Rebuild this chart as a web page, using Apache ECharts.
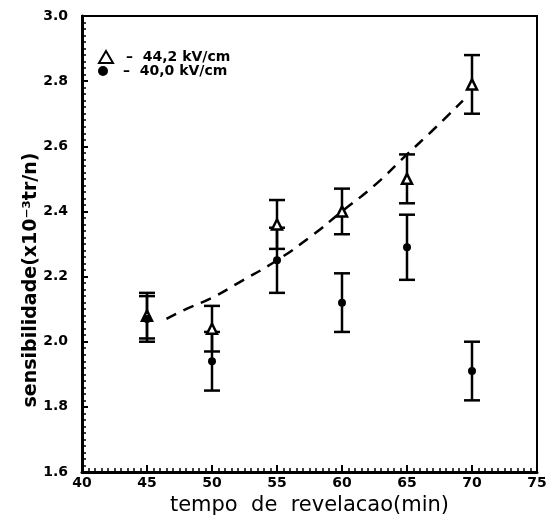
<!DOCTYPE html>
<html>
<head>
<meta charset="utf-8">
<script src="https://cdn.jsdelivr.net/npm/echarts@6/dist/echarts.min.js"></script>
<style>html,body{margin:0;padding:0;background:#fff}#c{width:556px;height:522px}</style>
</head>
<body>
<div id="c"></div>
<script>
// Data
const xValues = [45, 50, 55, 60, 65, 70];
const triValues = [2.08, 2.04, 2.36, 2.40, 2.50, 2.79];   // 44,2 kV/cm
const triErrors = [0.07, 0.07, 0.075, 0.07, 0.075, 0.09];
const dotValues = [2.07, 1.94, 2.25, 2.12, 2.29, 1.91];   // 40,0 kV/cm
const dotErrors = [0.07, 0.09, 0.10, 0.09, 0.10, 0.09];
const fitX = [46.5, 48, 50, 52, 55, 57.5, 60, 62.5, 65, 67, 69.3];
const fitY = [2.07, 2.10, 2.135, 2.18, 2.25, 2.32, 2.40, 2.48, 2.575, 2.65, 2.74];
const xTicks = [40, 45, 50, 55, 60, 65, 70, 75];
const yTicks = [1.6, 1.8, 2.0, 2.2, 2.4, 2.6, 2.8, 3.0];
const triName = '44,2 kV/cm';
const dotName = '40,0 kV/cm';

const labelFont = '"DejaVu Sans", sans-serif';
const errData = [];
xValues.forEach((x, i) => {
  errData.push([x, triValues[i] - triErrors[i], triValues[i] + triErrors[i]]);
  errData.push([x, dotValues[i] - dotErrors[i], dotValues[i] + dotErrors[i]]);
});

const chart = echarts.init(document.getElementById('c'), null, {renderer: 'canvas'});
chart.setOption({
  animation: false,
  backgroundColor: '#fff',
  grid: {left: 82, right: 19, top: 16, bottom: 50, show: true, borderColor: '#000', borderWidth: 2, backgroundColor: 'transparent'},
  legend: [
    {data: [triName], left: 98, top: 50, itemWidth: 14, itemHeight: 12, padding: 0, itemGap: 0,
     formatter: n => '–  ' + n,
     textStyle: {fontFamily: labelFont, fontWeight: 'bold', fontSize: 14, color: '#000', padding: [0, 0, 0, 8]}},
    {data: [dotName], left: 98, top: 64, itemWidth: 14, itemHeight: 10, padding: 0, itemGap: 0,
     formatter: n => '–  ' + n,
     textStyle: {fontFamily: labelFont, fontWeight: 'bold', fontSize: 14, color: '#000', padding: [0, 0, 0, 8]}}
  ],
  xAxis: {
    type: 'value', min: xTicks[0], max: xTicks[xTicks.length - 1], interval: 5,
    name: 'tempo  de  revelacao(min)', nameLocation: 'middle', nameGap: 20,
    nameTextStyle: {fontFamily: labelFont, fontSize: 21, color: '#000'},
    axisLine: {show: true, lineStyle: {color: '#000', width: 3}},
    axisTick: {show: true, inside: true, length: 7, lineStyle: {color: '#000', width: 2}},
    minorTick: {show: true, splitNumber: 10, length: 4, lineStyle: {color: '#000', width: 1.5}},
    axisLabel: {fontFamily: labelFont, fontWeight: 'bold', fontSize: 14, color: '#000', margin: 4},
    splitLine: {show: false}
  },
  yAxis: {
    type: 'value', min: yTicks[0], max: yTicks[yTicks.length - 1], interval: 0.2,
    axisLine: {show: true, lineStyle: {color: '#000', width: 3}},
    axisTick: {show: true, inside: true, length: 6, lineStyle: {color: '#000', width: 2}},
    minorTick: {show: true, splitNumber: 10, length: 4, lineStyle: {color: '#000', width: 1.5}},
    axisLabel: {fontFamily: labelFont, fontWeight: 'bold', fontSize: 14, color: '#000', margin: 14,
                formatter: v => v.toFixed(1)},
    splitLine: {show: false}
  },
  graphic: [{
    type: 'text', x: 31, y: 280, rotation: Math.PI / 2,
    style: {text: 'sensibilidade(x10⁻³tr/n)', font: 'bold 19px "DejaVu Sans", sans-serif',
            fill: '#000', align: 'center', verticalAlign: 'middle', textAlign: 'center', textVerticalAlign: 'middle'}
  }],
  series: [
    {
      type: 'custom', name: 'err', z: 2,
      data: errData,
      renderItem: (params, api) => {
        const x = api.value(0);
        const lo = api.coord([x, api.value(1)]);
        const hi = api.coord([x, api.value(2)]);
        const hw = 8;
        const st = {stroke: '#000', lineWidth: 2.5};
        return {type: 'group', children: [
          {type: 'line', shape: {x1: lo[0], y1: lo[1], x2: hi[0], y2: hi[1]}, style: st},
          {type: 'line', shape: {x1: lo[0] - hw, y1: lo[1], x2: lo[0] + hw, y2: lo[1]}, style: st},
          {type: 'line', shape: {x1: hi[0] - hw, y1: hi[1], x2: hi[0] + hw, y2: hi[1]}, style: st}
        ]};
      }
    },
    {
      type: 'line', name: 'fit', z: 3, smooth: true, symbol: 'none',
      data: fitX.map((x, i) => [x, fitY[i]]),
      lineStyle: {color: '#000', width: 2.5, type: [11, 8]}
    },
    {
      type: 'scatter', name: triName, z: 4, symbol: 'triangle', symbolSize: 10,
      data: xValues.map((x, i) => [x, triValues[i]]),
      itemStyle: {color: '#fff', borderColor: '#000', borderWidth: 2.5, opacity: 1}
    },
    {
      type: 'scatter', name: dotName, z: 5, symbol: 'circle', symbolSize: 8,
      data: xValues.map((x, i) => [x, dotValues[i]]),
      itemStyle: {color: '#000', opacity: 1}
    }
  ]
});
</script>
</body>
</html>
